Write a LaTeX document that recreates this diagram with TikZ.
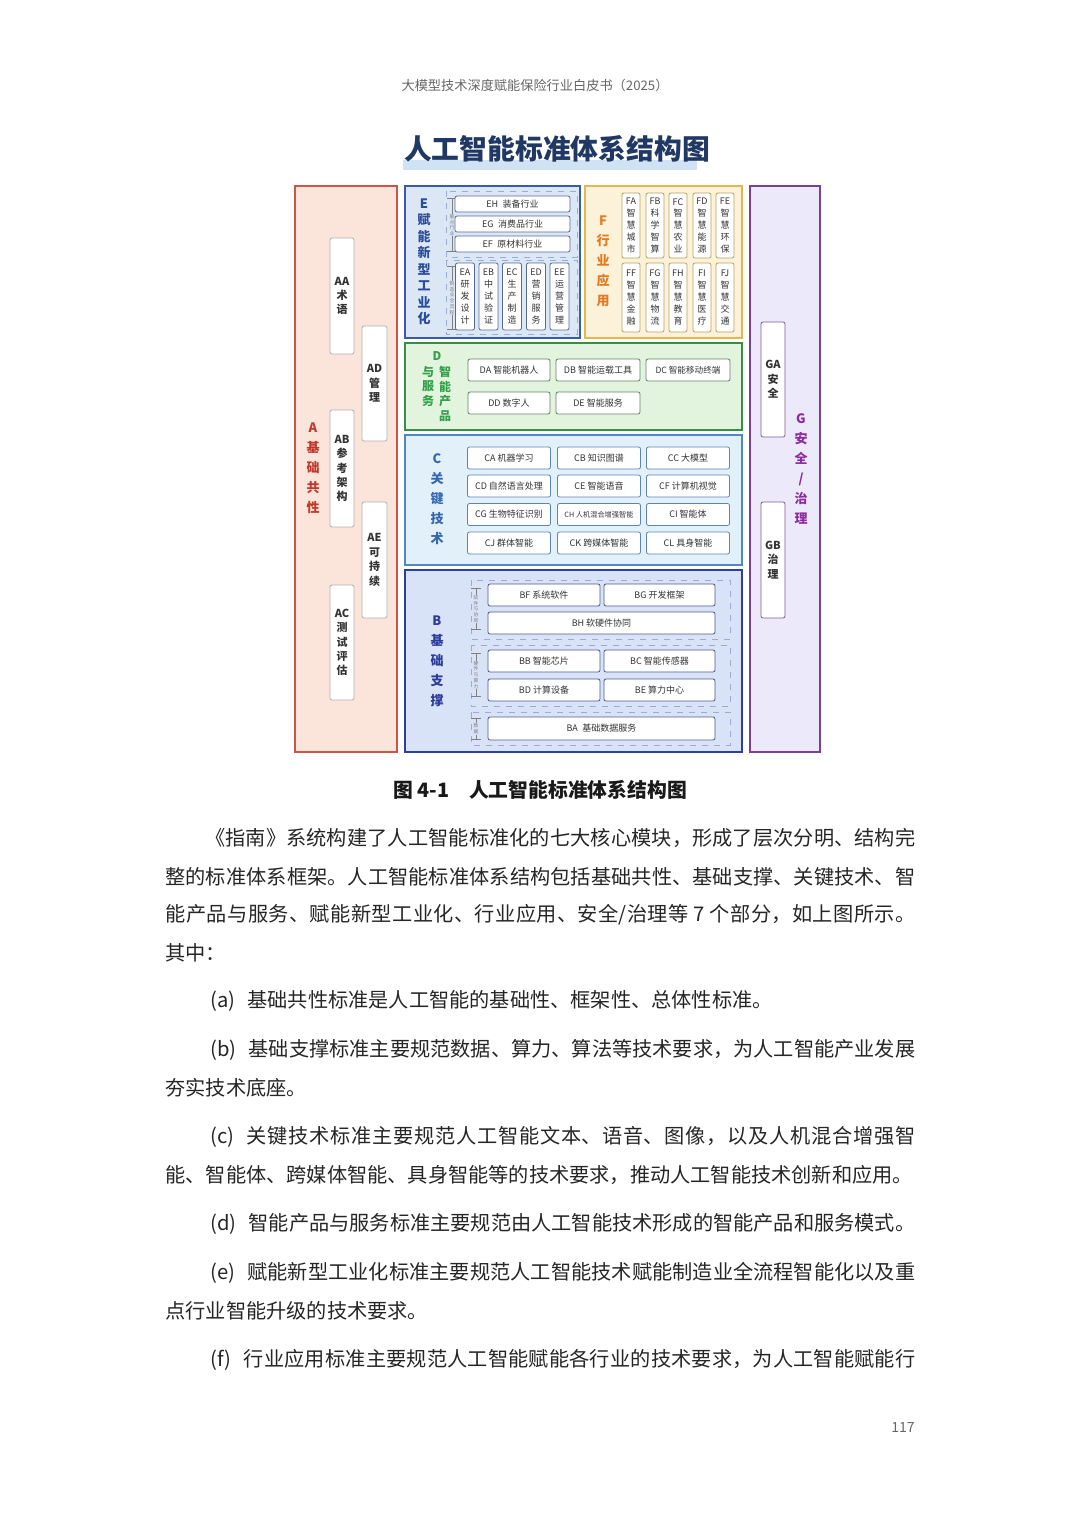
\documentclass[tikz,border=0pt]{standalone}
\usepackage{fontspec}
\setmainfont{Noto Sans CJK SC}
\XeTeXlinebreaklocale "zh"
\XeTeXlinebreakskip=0pt plus 1pt minus 0.3pt
\definecolor{Aline}{HTML}{C9564A}\definecolor{Afill}{HTML}{FBE4DA}\definecolor{Atext}{HTML}{C0392B}
\definecolor{Eline}{HTML}{3A5BA8}\definecolor{Efill}{HTML}{DCE7F6}\definecolor{Etext}{HTML}{2B4C9B}
\definecolor{Fline}{HTML}{E5B74F}\definecolor{Ffill}{HTML}{FCF2DA}\definecolor{Ftext}{HTML}{E27A1F}
\definecolor{Gline}{HTML}{7B3F98}\definecolor{Gfill}{HTML}{ECE9FB}\definecolor{Gtext}{HTML}{8E2BA0}
\definecolor{Dline}{HTML}{3B8C45}\definecolor{Dfill}{HTML}{E3F4DE}\definecolor{Dtext}{HTML}{33A04A}
\definecolor{Cline}{HTML}{4F88C6}\definecolor{Cfill}{HTML}{E2F0FA}\definecolor{Ctext}{HTML}{3468AD}
\definecolor{Bline}{HTML}{2F3F9C}\definecolor{Bfill}{HTML}{D9E3F7}\definecolor{Btext}{HTML}{2C3C9C}
\definecolor{titlecol}{HTML}{1F3864}\definecolor{titleband}{HTML}{CFE3F5}
% one justified line of body text
\newcommand{\justline}[2]{\parbox{#1}{\parfillskip=0pt\relax #2}}
\newcommand{\itemmark}[1]{\hspace{0.25em}(#1)\hspace{0.6em}}
\begin{document}
\begin{tikzpicture}[x=0.5pt, y=-0.5pt,
  panel/.style={line width=1pt},
  cell/.style={rectangle, draw=gray!70, fill=white, rounded corners=1pt, inner sep=0pt, text=black!80, font=\fontsize{4.5}{5}\selectfont},
  vcell/.style={cell, align=center, font=\bfseries\fontsize{5.5}{7.2}\selectfont},
  svcell/.style={cell, align=center, font=\fontsize{4.5}{5.9}\selectfont},
  group/.style={draw=gray!65, dashed, line width=0.4pt},
  head/.style={align=center, inner sep=0pt, font=\bfseries\fontsize{6.5}{10}\selectfont},
  tag/.style={align=center, inner sep=0.3pt, text=gray, font=\fontsize{2.4}{2.9}\selectfont},
  body/.style={anchor=west, inner sep=0pt, font=\fontsize{10.1}{12}\selectfont, text=black!85}]
\fill[white] (0,0) rectangle (1080,1527);
\useasboundingbox (0,0) rectangle (1080,1527);

% page head
\node[text=gray!80!black, font=\fontsize{6.6}{8}\selectfont] (pagehead) at (535,85) {大模型技术深度赋能保险行业白皮书（2025）};

% title
\fill[titleband] (403,160) rectangle (697,170);
\node[text=titlecol, font=\bfseries\fontsize{13.9}{16}\selectfont] (title) at (557,149) {人工智能标准体系结构图};

% A
\draw[panel, draw=Aline, fill=Afill] (295,186) rectangle (397,752);
\node[head, text=Atext] (alabel) at (313,468) {A\\基\\础\\共\\性};
\begin{scope}[cell/.append style={draw=gray!60}]
  \node[vcell, minimum width=12pt, minimum height=58pt] (aa) at (342,296) {AA\\术\\语};
  \node[vcell, minimum width=12.5pt, minimum height=57.5pt] (ad) at (374.5,383.5) {AD\\管\\理};
  \node[vcell, minimum width=12pt, minimum height=58.5pt] (ab) at (342,468.5) {AB\\参\\考\\架\\构};
  \node[vcell, minimum width=12.5pt, minimum height=58pt] (ae) at (374.5,560) {AE\\可\\持\\续};
  \node[vcell, minimum width=12pt, minimum height=57.5pt] (ac) at (342,642.5) {AC\\测\\试\\评\\估};
\end{scope}

% G
\draw[panel, draw=Gline, fill=Gfill] (750,186) rectangle (820,752);
\node[head, text=Gtext] (glabel) at (801,469) {G\\安\\全\\/\\治\\理};
\begin{scope}[cell/.append style={draw=Gline!50!gray}]
  \node[vcell, minimum width=12pt, minimum height=57.5pt] (ga) at (773,379.5) {GA\\安\\全};
  \node[vcell, minimum width=12pt, minimum height=58pt] (gb) at (773,560) {GB\\治\\理};
\end{scope}

% E
\draw[panel, draw=Eline, fill=Efill] (405,186) rectangle (580,338);
\node[head, text=Etext, font=\bfseries\fontsize{6.5}{8.25}\selectfont] (elabel) at (424,262) {E\\赋\\能\\新\\型\\工\\业\\化};
\draw[group, draw=Eline!50] (446,191) rectangle (577,257);
\draw[group, draw=Eline!50] (446,260) rectangle (577,334);
\draw[|-|, gray, line width=0.3pt] (452,198) -- (452,252);
\node[tag, fill=Efill] (etag1) at (452,225) {重\\点\\行\\业};
\draw[|-|, gray, line width=0.3pt] (452,266) -- (452,330);
\node[tag, fill=Efill] (etag2) at (452,298) {制\\造\\业\\全\\流\\程};
\begin{scope}[cell/.append style={draw=Eline!60!gray}]
  \node[cell, minimum width=57.5pt, minimum height=8pt] (eh) at (512.5,204) {EH\enspace 装备行业};
  \node[cell, minimum width=57.5pt, minimum height=8pt] (eg) at (512.5,224) {EG\enspace 消费品行业};
  \node[cell, minimum width=57.5pt, minimum height=8pt] (ef) at (512.5,244) {EF\enspace 原材料行业};
  \node[svcell, minimum width=9.5pt, minimum height=33.5pt] (ea) at (465,296.5) {EA\\研\\发\\设\\计};
  \node[svcell, minimum width=9.5pt, minimum height=33.5pt] (eb) at (488.5,296.5) {EB\\中\\试\\验\\证};
  \node[svcell, minimum width=9.5pt, minimum height=33.5pt] (ec) at (512,296.5) {EC\\生\\产\\制\\造};
  \node[svcell, minimum width=9.5pt, minimum height=33.5pt] (ed) at (536,296.5) {ED\\营\\销\\服\\务};
  \node[svcell, minimum width=9.5pt, minimum height=33.5pt] (ee) at (559.5,296.5) {EE\\运\\营\\管\\理};
\end{scope}

% F
\draw[panel, draw=Fline, fill=Ffill] (585,186) rectangle (742,338);
\node[head, text=Ftext] (flabel) at (603,261) {F\\行\\业\\应\\用};
\begin{scope}[cell/.append style={draw=Fline!60!gray}]
  \node[svcell, minimum width=9pt, minimum height=32.5pt] (fa) at (631,225.5) {FA\\智\\慧\\城\\市};
  \node[svcell, minimum width=9pt, minimum height=32.5pt] (fb) at (655,225.5) {FB\\科\\学\\智\\算};
  \node[svcell, minimum width=9pt, minimum height=32.5pt] (fc) at (678,225.5) {FC\\智\\慧\\农\\业};
  \node[svcell, minimum width=9pt, minimum height=32.5pt] (fd) at (702,225.5) {FD\\智\\慧\\能\\源};
  \node[svcell, minimum width=9pt, minimum height=32.5pt] (fe) at (725,225.5) {FE\\智\\慧\\环\\保};
  \node[svcell, minimum width=9pt, minimum height=34.5pt] (ff) at (631,297.5) {FF\\智\\慧\\金\\融};
  \node[svcell, minimum width=9pt, minimum height=34.5pt] (fg) at (655,297.5) {FG\\智\\慧\\物\\流};
  \node[svcell, minimum width=9pt, minimum height=34.5pt] (fh) at (678,297.5) {FH\\智\\慧\\教\\育};
  \node[svcell, minimum width=9pt, minimum height=34.5pt] (fi) at (702,297.5) {FI\\智\\慧\\医\\疗};
  \node[svcell, minimum width=9pt, minimum height=34.5pt] (fj) at (725,297.5) {FJ\\智\\慧\\交\\通};
\end{scope}

% D
\draw[panel, draw=Dline, fill=Dfill] (405,343) rectangle (742,430);
\node[head, text=Dtext, font=\bfseries\fontsize{6}{7.25}\selectfont] (dlabel) at (437,356) {D};
\node[head, text=Dtext, font=\bfseries\fontsize{6}{7.25}\selectfont] (dleft) at (428,386.5) {与\\服\\务};
\node[head, text=Dtext, font=\bfseries\fontsize{6}{7.25}\selectfont] (dright) at (445,394) {智\\能\\产\\品};
\begin{scope}[cell/.append style={draw=Dline!50!gray, minimum height=11pt}]
  \node[cell, minimum width=41pt] (da) at (509,370) {DA 智能机器人};
  \node[cell, minimum width=42pt] (db) at (598,370) {DB 智能运载工具};
  \node[cell, minimum width=42pt, font=\fontsize{4.3}{5}\selectfont] (dc) at (688,370) {DC 智能移动终端};
  \node[cell, minimum width=41pt] (dd) at (509,403) {DD 数字人};
  \node[cell, minimum width=42pt] (de) at (598,403) {DE 智能服务};
\end{scope}

% C
\draw[panel, draw=Cline, fill=Cfill] (405,435) rectangle (742,565);
\node[head, text=Ctext] (clabel) at (437,499.5) {C\\关\\键\\技\\术};
\begin{scope}[cell/.append style={draw=Cline!70!gray, minimum height=11pt, minimum width=41.5pt}]
  \node[cell] (ca) at (509,458) {CA 机器学习};
  \node[cell] (cb) at (599,458) {CB 知识图谱};
  \node[cell] (cc) at (688,458) {CC 大模型};
  \node[cell] (cd) at (509,486) {CD 自然语言处理};
  \node[cell] (ce) at (599,486) {CE 智能语音};
  \node[cell] (cf) at (688,486) {CF 计算机视觉};
  \node[cell] (cg) at (509,514.5) {CG 生物特征识别};
  \node[cell, font=\fontsize{3.6}{4}\selectfont] (ch) at (599,514.5) {CH 人机混合增强智能};
  \node[cell] (ci) at (688,514.5) {CI 智能体};
  \node[cell] (cj) at (509,543) {CJ 群体智能};
  \node[cell] (ck) at (599,543) {CK 跨媒体智能};
  \node[cell] (cl) at (688,543) {CL 具身智能};
\end{scope}

% B
\draw[panel, draw=Bline, fill=Bfill] (405,570) rectangle (742,752);
\node[head, text=Btext] (blabel) at (437,661) {B\\基\\础\\支\\撑};
\draw[group, draw=Bline!45] (471,580) rectangle (730,639);
\draw[group, draw=Bline!45] (471,645) rectangle (730,706);
\draw[group, draw=Bline!45] (471,712) rectangle (730,745);
\draw[|-|, gray, line width=0.3pt] (476,588) -- (476,630);
\node[tag, fill=Bfill] (btag1) at (476,609) {软\\件\\与\\协\\同};
\draw[|-|, gray, line width=0.3pt] (476,653) -- (476,697);
\node[tag, fill=Bfill] (btag2) at (476,675) {硬\\件\\与\\算\\力};
\draw[|-|, gray, line width=0.3pt] (476,718) -- (476,740);
\node[tag, fill=Bfill] (btag3) at (476,729) {数\\据};
\begin{scope}[cell/.append style={draw=Bline!60!gray, minimum height=11pt}]
  \node[cell, minimum width=56pt] (bf) at (544,595) {BF 系统软件};
  \node[cell, minimum width=55.5pt] (bg) at (659.5,595) {BG 开发框架};
  \node[cell, minimum width=113.5pt] (bh) at (601.5,623) {BH 软硬件协同};
  \node[cell, minimum width=56pt] (bb) at (544,661) {BB 智能芯片};
  \node[cell, minimum width=55.5pt] (bc) at (659.5,661) {BC 智能传感器};
  \node[cell, minimum width=56pt] (bd) at (544,690) {BD 计算设备};
  \node[cell, minimum width=55.5pt] (be) at (659.5,690) {BE 算力中心};
  \node[cell, minimum width=113.5pt, minimum height=11.5pt] (ba) at (601.5,728.5) {BA\enspace 基础数据服务};
\end{scope}

% caption and text
\node[font=\bfseries\fontsize{9.9}{12}\selectfont, text=black!90] (caption) at (540,790) {图 4-1\quad 人工智能标准体系结构图};
\node[body] (line1) at (205,838) {\justline{355pt}{《指南》系统构建了人工智能标准化的七大核心模块，形成了层次分明、结构完}};
\node[body] (line2) at (165,877) {\justline{375pt}{整的标准体系框架。人工智能标准体系结构包括基础共性、基础支撑、关键技术、智}};
\node[body] (line3) at (165,915) {\justline{375pt}{能产品与服务、赋能新型工业化、行业应用、安全/治理等 7 个部分，如上图所示。}};
\node[body] (line4) at (165,953) {其中：};
\node[body] (line5) at (205,1001) {\itemmark{a}基础共性标准是人工智能的基础性、框架性、总体性标准。};
\node[body] (line6) at (205,1050) {\justline{355pt}{\itemmark{b}基础支撑标准主要规范数据、算力、算法等技术要求，为人工智能产业发展}};
\node[body] (line7) at (165,1088) {夯实技术底座。};
\node[body] (line8) at (205,1137) {\justline{355pt}{\itemmark{c}关键技术标准主要规范人工智能文本、语音、图像，以及人机混合增强智}};
\node[body] (line9) at (165,1175) {能、智能体、跨媒体智能、具身智能等的技术要求，推动人工智能技术创新和应用。};
\node[body] (line10) at (205,1224) {\itemmark{d}智能产品与服务标准主要规范由人工智能技术形成的智能产品和服务模式。};
\node[body] (line11) at (205,1273) {\justline{355pt}{\itemmark{e}赋能新型工业化标准主要规范人工智能技术赋能制造业全流程智能化以及重}};
\node[body] (line12) at (165,1311) {点行业智能升级的技术要求。};
\node[body] (line13) at (205,1360) {\justline{355pt}{\itemmark{f}行业应用标准主要规范人工智能赋能各行业的技术要求，为人工智能赋能行}};
\node[text=gray!80!black, font=\fontsize{7}{8}\selectfont] (pagenum) at (903,1427) {117};
\end{tikzpicture}
\end{document}
